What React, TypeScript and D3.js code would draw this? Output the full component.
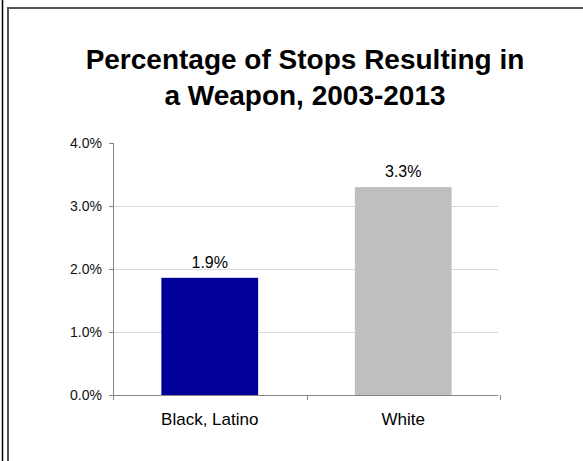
import React from "react";
import * as d3 from "d3";

const categories = ["Black, Latino", "White"];
const values = [1.86, 3.3];
const valueLabels = ["1.9%", "3.3%"];
const barColors = ["#000099", "#bfbfbf"];
const yTicks = [0, 1, 2, 3, 4];
const gridTicks = [1, 2, 3];
const titleLines = ["Percentage of Stops Resulting in", "a Weapon, 2003-2013"];

export default function App() {
  const W = 583, H = 461;
  const x = d3.scaleBand<string>().domain(categories).range([113, 500]).paddingInner(0.5).paddingOuter(0.25);
  const xb = d3.scaleBand<string>().domain(categories).range([113, 500]);
  const y = d3.scaleLinear().domain([0, 4]).range([395, 143]);
  const font = "Arial, 'Liberation Sans', sans-serif";
  return (
    <svg width={W} height={H} style={{ position: "absolute", left: 0, top: 0, background: "#fff" }}>
      <rect x={0} y={0} width={W} height={H} fill="#fff" />
      <line x1={2.5} x2={2.5} y1={0} y2={H} stroke="#000" strokeWidth={1.5} />
      <line x1={8} x2={8} y1={7} y2={H} stroke="#555" strokeWidth={2} />
      <line x1={7} x2={W} y1={8} y2={8} stroke="#555" strokeWidth={2} />
      {titleLines.map((t, i) => (
        <text key={i} x={305} y={69 + i * 36} textAnchor="middle" fontFamily={font} fontWeight="bold" fontSize={28} fill="#000">
          {t}
        </text>
      ))}
      {gridTicks.map((t) => (
        <line key={t} x1={113} x2={498} y1={Math.round(y(t)) + 0.5} y2={Math.round(y(t)) + 0.5} stroke="#d9d9d9" strokeWidth={1} />
      ))}
      {categories.map((c, i) => (
        <g key={c}>
          <rect x={x(c)} y={y(values[i])} width={x.bandwidth()} height={y(0) - y(values[i])} fill={barColors[i]} />
          <text x={x(c)! + x.bandwidth() / 2} y={y(values[i]) - 10} textAnchor="middle" fontFamily={font} fontSize={16} fill="#000">
            {valueLabels[i]}
          </text>
          <text x={xb(c)! + xb.bandwidth() / 2} y={425} textAnchor="middle" fontFamily={font} fontSize={17} fill="#000">
            {c}
          </text>
        </g>
      ))}
      <line x1={113.5} x2={113.5} y1={143} y2={396} stroke="#868686" strokeWidth={1} />
      <line x1={113} x2={498} y1={395.5} y2={395.5} stroke="#868686" strokeWidth={1} />
      {yTicks.map((t) => (
        <g key={t}>
          <line x1={109} x2={113} y1={Math.round(y(t)) + 0.5} y2={Math.round(y(t)) + 0.5} stroke="#868686" />
          <text x={102} y={y(t) + 5} textAnchor="end" fontFamily={font} fontSize={14} fill="#111">
            {d3.format(".1f")(t) + "%"}
          </text>
        </g>
      ))}
      {[113, 306.5, 500].map((v, i) => (
        <line key={i} x1={Math.round(v) + 0.5} x2={Math.round(v) + 0.5} y1={395} y2={400} stroke="#868686" />
      ))}
    </svg>
  );
}
